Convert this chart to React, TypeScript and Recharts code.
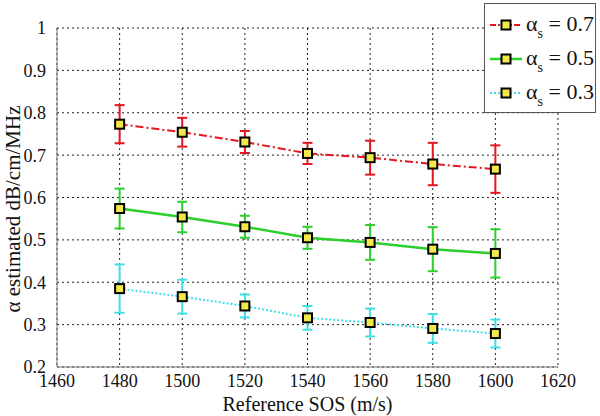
import { CartesianGrid, ErrorBar, Line, LineChart, XAxis, YAxis } from "recharts";

const sos = [1480, 1500, 1520, 1540, 1560, 1580, 1600];
const alpha07 = [0.773, 0.754, 0.731, 0.704, 0.694, 0.679, 0.667];
const err07 = [0.045, 0.034, 0.026, 0.025, 0.04, 0.05, 0.056];
const alpha05 = [0.574, 0.554, 0.531, 0.505, 0.494, 0.478, 0.468];
const err05 = [0.047, 0.036, 0.026, 0.026, 0.041, 0.052, 0.057];
const alpha03 = [0.385, 0.366, 0.344, 0.316, 0.305, 0.291, 0.279];
const err03 = [0.057, 0.04, 0.027, 0.028, 0.033, 0.034, 0.033];
const xTicks = [1460, 1480, 1500, 1520, 1540, 1560, 1580, 1600, 1620];
const yTicks = [0.2, 0.3, 0.4, 0.5, 0.6, 0.7, 0.8, 0.9, 1];

const RED = "#e5161d";
const GREEN = "#2ccf2c";
const CYAN = "#3ee0e6";

const data = sos.map((s, i) => ({
  sos: s,
  a7: alpha07[i],
  e7: err07[i],
  a5: alpha05[i],
  e5: err05[i],
  a3: alpha03[i],
  e3: err03[i],
}));

const font = "Liberation Serif, DejaVu Serif, serif";

const SquareDot = (props: any) => {
  const { cx, cy } = props;
  if (cx == null || cy == null) return null;
  return <rect x={cx - 4.5} y={cy - 4.5} width={9} height={9} fill="#f2e84a" stroke="#000" strokeWidth={2} />;
};

const legendItems = [
  { label: "0.7", color: RED, dash: "6 2 2 2", w: 2 },
  { label: "0.5", color: GREEN, dash: undefined, w: 2.5 },
  { label: "0.3", color: CYAN, dash: "2 2", w: 2 },
];

const LegendBox = () => (
  <div
    style={{
      position: "absolute",
      left: 484,
      top: 3,
      border: "1.5px solid #555",
      background: "#fff",
      width: 112,
      height: 110,
      boxSizing: "border-box",
      fontFamily: font,
      paddingTop: 4,
    }}
  >
    {legendItems.map((it) => (
      <div key={it.label} style={{ display: "flex", alignItems: "center", height: 34, whiteSpace: "nowrap" }}>
        <svg width={36} height={20} style={{ marginLeft: 3, flex: "none" }}>
          <line x1={2} y1={10} x2={34} y2={10} stroke={it.color} strokeWidth={it.w} strokeDasharray={it.dash} />
          <rect x={13.5} y={5.5} width={9} height={9} fill="#f2e84a" stroke="#000" strokeWidth={2} />
        </svg>
        <span style={{ fontSize: 22, marginLeft: 2, color: "#111", lineHeight: "20px" }}>
          α<span style={{ fontSize: 14, position: "relative", top: 7 }}>s</span> = {it.label}
        </span>
      </div>
    ))}
  </div>
);

const App = () => {
  return (
    <div style={{ position: "absolute", left: 0, top: 0, width: 600, height: 416, background: "#fff", fontFamily: font }}>
      <LineChart width={600} height={416} data={data} margin={{ top: 28, right: 42, left: 0, bottom: 0 }} style={{ fontFamily: font }}>
        <CartesianGrid stroke="#222" strokeDasharray="2 3" strokeWidth={1} />
        <XAxis
          dataKey="sos"
          type="number"
          domain={[1460, 1620]}
          ticks={xTicks}
          height={49}
          stroke="#777"
          tickLine={false}
          fontSize={18}
          fontFamily={font}
          tick={{ fill: "#111", fontSize: 18, fontFamily: font }}
          tickMargin={1}
          label={{ value: "Reference SOS (m/s)", position: "insideBottom", offset: 5, fill: "#111", fontSize: 20, fontFamily: font }}
        />
        <XAxis xAxisId="top" dataKey="sos" type="number" domain={[1460, 1620]} orientation="top" height={0} tick={false} tickLine={false} stroke="#777" />
        <YAxis
          type="number"
          domain={[0.2, 1]}
          ticks={yTicks}
          width={57}
          stroke="#777"
          tickLine={false}
          fontSize={18}
          fontFamily={font}
          tick={{ fill: "#111", fontSize: 18, fontFamily: font }}
          tickMargin={5}
          label={{ value: "α estimated dB/cm/MHz", angle: -90, position: "insideLeft", offset: 13, dy: 115, fill: "#111", fontSize: 21, fontFamily: font }}
        />
        <YAxis yAxisId="right" orientation="right" domain={[0.2, 1]} width={0} tick={false} tickLine={false} stroke="#777" />
        <Line dataKey="a7" stroke={RED} strokeWidth={2} strokeDasharray="8 3 2 3" dot={<SquareDot />} isAnimationActive={false}>
          <ErrorBar dataKey="e7" stroke={RED} strokeWidth={2} width={5} isAnimationActive={false} />
        </Line>
        <Line dataKey="a5" stroke={GREEN} strokeWidth={2.5} dot={<SquareDot />} isAnimationActive={false}>
          <ErrorBar dataKey="e5" stroke={GREEN} strokeWidth={2} width={5} isAnimationActive={false} />
        </Line>
        <Line dataKey="a3" stroke={CYAN} strokeWidth={2} strokeDasharray="2 2" dot={<SquareDot />} isAnimationActive={false}>
          <ErrorBar dataKey="e3" stroke={CYAN} strokeWidth={2} width={5} isAnimationActive={false} />
        </Line>
      </LineChart>
      <LegendBox />
    </div>
  );
};

export default App;
